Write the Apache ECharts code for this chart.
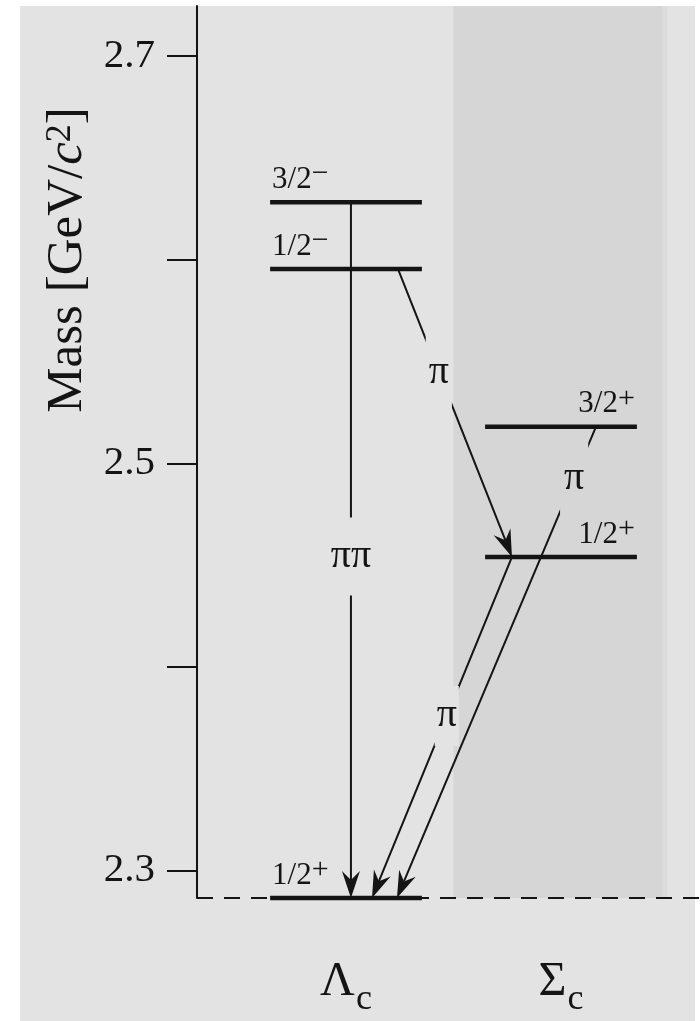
<!DOCTYPE html>
<html><head><meta charset="utf-8">
<script src="https://cdn.jsdelivr.net/npm/echarts@6/dist/echarts.min.js"></script>
<style>html,body{margin:0;padding:0;background:#fff}#c{width:700px;height:1021px}</style>
</head><body><div id="c"></div>
<script>
// ---------------- data ----------------
const columns = ['Λ', 'Σ'];                 // baryon families (charm subscript added in label)
const levelColumn = [0, 0, 0, 1, 1];
const levelJP = ['1/2+', '1/2−', '3/2−', '1/2+', '3/2+'];
const levelMass = [2.2865, 2.5954, 2.6282, 2.4540, 2.5180];   // GeV/c^2
const transFrom = [2, 1, 3, 4];
const transTo = [0, 3, 0, 0];
const transLabel = ['ππ', 'π', 'π', 'π'];
const tickValues = [2.3, 2.4, 2.5, 2.6, 2.7];
const tickLabels = [2.3, 2.5, 2.7];
const axisTopMass = 2.7246;

// ---------------- layout / style ----------------
const FONT = '"Liberation Serif","Times New Roman",serif';
const INK = '#141414';
const BG = '#e3e3e3', BAND = '#d6d6d6';
const X_MIN = -0.693, X_MAX = 1.6465;
const BAND_X = [0.5, 1.47];
const LEVEL_HALF = 0.353;
// attachment offsets of each transition on its levels (column units)
const transAnchor = [[0.023, 0.023], [0.242, -0.228], [-0.228, 0.121], [0.163, 0.237]];
const transLabelPos = [0.509, 0.358, 0.466, 0.11];
const transLabelPad = [[19, 3], [19, 3], [10, 2], [19, 4]];

const levelData = levelMass.map((m, i) => [levelColumn[i], m, i]);
const transData = transFrom.map((f, i) => {
  const t = transTo[i];
  return [levelColumn[f] + transAnchor[i][0], levelMass[f],
          levelColumn[t] + transAnchor[i][1], levelMass[t], i];
});

const chart = echarts.init(document.getElementById('c'));
chart.setOption({
  backgroundColor: '#ffffff',
  animation: false,
  graphic: [
    { type: 'rect', z: -10, silent: true, shape: { x: 20, y: 6, width: 675, height: 1015 }, style: { fill: BG } },
    { type: 'text', z: 10, x: 68, y: 260, rotation: Math.PI / 2,
      style: { text: '{n|Mass [GeV/}{i|c}{p|2}{n|]}', align: 'center', verticalAlign: 'middle',
        rich: {
          n: { fontFamily: FONT, fontSize: 51, fill: INK, verticalAlign: 'bottom' },
          i: { fontFamily: FONT, fontSize: 51, fontStyle: 'italic', fill: INK, verticalAlign: 'bottom' },
          p: { fontFamily: FONT, fontSize: 36, fill: INK, verticalAlign: 'top' }
        } } }
  ],
  grid: { left: 197, right: 0, top: 6, bottom: 123, containLabel: false },
  xAxis: {
    type: 'value', min: X_MIN, max: X_MAX,
    axisLine: { show: false }, axisTick: { show: false }, splitLine: { show: false },
    axisLabel: {
      customValues: [0, 1], margin: 60,
      formatter: v => '{g|' + columns[Math.round(v)] + '}{s|c}',
      rich: {
        g: { fontFamily: FONT, fontSize: 48, color: INK, verticalAlign: 'bottom', padding: [0, 1, 12, 0] },
        s: { fontFamily: FONT, fontSize: 36, color: INK, verticalAlign: 'bottom' }
      }
    }
  },
  yAxis: {
    type: 'value', min: levelMass[0], max: axisTopMass,
    splitLine: { show: false },
    axisLine: { show: true, onZero: false, lineStyle: { color: INK, width: 2 } },
    axisTick: { show: true, inside: false, length: 30, customValues: tickValues, lineStyle: { color: INK, width: 2 } },
    axisLabel: { customValues: tickLabels, margin: 42, color: INK, fontFamily: FONT, fontSize: 41,
      formatter: v => v.toFixed(1) }
  },
  series: [
    {
      type: 'line', name: 'threshold', z: 2, silent: true, symbol: 'none',
      data: [[X_MIN, levelMass[0]], [X_MAX, levelMass[0]]],
      lineStyle: { color: INK, width: 2, type: [16, 11] },
      markArea: { silent: true, itemStyle: { color: BAND },
        data: [[{ xAxis: BAND_X[0] }, { xAxis: BAND_X[1] }], [{ xAxis: BAND_X[1], itemStyle: { color: '#dcdcdc' } }, { xAxis: BAND_X[1] + 0.025 }]] }
    },
    {
      type: 'custom', name: 'levels', data: levelData, z: 3,
      encode: { x: 0, y: 1 },
      renderItem: (params, api) => {
        const col = api.value(0), m = api.value(1), idx = api.value(2);
        const a = api.coord([col - LEVEL_HALF, m]);
        const b = api.coord([col + LEVEL_HALF, m]);
        const jp = levelJP[idx];
        const left = col === 0;
        return { type: 'group', children: [
          { type: 'line', shape: { x1: a[0], y1: a[1], x2: b[0], y2: b[1] }, style: { stroke: INK, lineWidth: 4.5 } },
          { type: 'text', x: left ? a[0] + 2 : b[0] - 2, y: a[1] - 7,
            style: { text: '{m|' + jp.slice(0, -1) + '}{s|' + jp.slice(-1) + '}',
              align: left ? 'left' : 'right', verticalAlign: 'bottom',
              rich: {
                m: { fontFamily: FONT, fontSize: 31, fill: INK, verticalAlign: 'bottom' },
                s: { fontFamily: FONT, fontSize: 30, fill: INK, verticalAlign: 'top', padding: [0, 0, 6, 0] }
              } } }
        ] };
      }
    },
    {
      type: 'custom', name: 'transitions', data: transData, z: 4,
      encode: { x: [0, 2], y: [1, 3] },
      renderItem: (params, api) => {
        const i = api.value(4);
        const p1 = api.coord([api.value(0), api.value(1)]);
        const p2 = api.coord([api.value(2), api.value(3)]);
        const dx = p2[0] - p1[0], dy = p2[1] - p1[1];
        const len = Math.hypot(dx, dy), ux = dx / len, uy = dy / len;
        const L = 27, W = 9, N = 18;
        const head = [
          [p2[0], p2[1]],
          [p2[0] - ux * L + uy * W, p2[1] - uy * L - ux * W],
          [p2[0] - ux * N, p2[1] - uy * N],
          [p2[0] - ux * L - uy * W, p2[1] - uy * L + ux * W]
        ];
        const t = transLabelPos[i];
        const lx = p1[0] + dx * t, ly = p1[1] + dy * t;
        const bandL = api.coord([BAND_X[0], levelMass[0]])[0];
        const bandR = api.coord([BAND_X[1], levelMass[0]])[0];
        const bg = (lx > bandL && lx < bandR) ? BAND : BG;
        return { type: 'group', children: [
          { type: 'line', shape: { x1: p1[0], y1: p1[1], x2: p2[0] - ux * N, y2: p2[1] - uy * N }, style: { stroke: INK, lineWidth: 2 } },
          { type: 'polygon', shape: { points: head }, style: { fill: INK } },
          { type: 'text', x: lx, y: ly, z2: 5,
            style: { text: transLabel[i], fontFamily: FONT, fontSize: 40, fill: INK,
              align: 'center', verticalAlign: 'middle', backgroundColor: bg, padding: transLabelPad[i] } }
        ] };
      }
    }
  ]
});
</script></body></html>
